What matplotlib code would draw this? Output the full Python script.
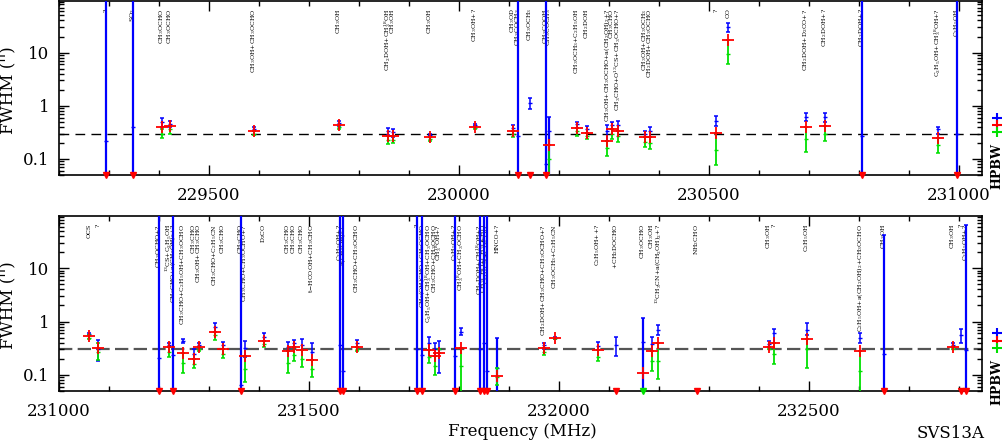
import numpy as np
import matplotlib
matplotlib.use("Agg")
import matplotlib.pyplot as plt
import matplotlib.transforms as mtransforms
from matplotlib.ticker import MultipleLocator, FixedLocator, FixedFormatter, LogLocator, NullFormatter

plt.rcParams['font.family'] = ['DejaVu Serif']
plt.rcParams['mathtext.fontset'] = 'dejavuserif'

NA = np.nan

# ---- top panel (229200 - 231050 MHz) ----
top_freq = [229294, 229348, 229406, 229422, 229590, 229760, 229857, 229867, 229942, 230032,
            230108, 230117, 230142, 230173, 230180, 230236, 230256, 230296, 230306, 230318,
            230372, 230381, 230514, 230538, 230694, 230732, 230806, 230958, 230996]
top_label = ["?", "SO$_2$", "CH$_3$OCHO", "CH$_3$OCHO", "CH$_3$OH+CH$_3$OCHO", "CH$_3$OH",
             "CH$_2$DOH+CH$_3^{18}$OH", "CH$_3$OH", "CH$_3$OH", "CH$_3$OH+?",
             "CH$_3$OD", "CH$_3$COCH$_3$", "CH$_3$OCH$_3$", "CH$_3$COOH", "CH$_3$COCH$_3$",
             "CH$_3$OCH$_3$+C$_2$H$_5$OH", "CH$_2$DOH", "CH$_3$OH+CH$_3$OCHO+a(CH$_2$OH)$_2$+?",
             "CH$_3$CHO", "CH$_3$CHO+O$^{13}$CS+CH$_3$OCHO+?",
             "CH$_3$OH+CH$_3$OCH$_3$", "CH$_2$DOH+CH$_3$OCHO", "?", "CO", "CH$_2$DOH+D$_2$CO+?",
             "CH$_2$DOH+?", "CH$_2$DOH+?", "C$_2$H$_5$OH+CH$_3^{18}$OH+?", "C$_2$H$_5$OH"]
top_blue = [0.22, 0.40, 0.50, 0.46, 0.37, 0.47, 0.33, 0.32, 0.28, 0.43,
            0.39, 0.275, 1.13, 0.082, 0.33, 0.45, 0.37, 0.33, 0.43, 0.44,
            0.30, 0.34, 0.52, 30.0, 0.62, 0.62, 0.275, 0.36, 0.29]
top_blue_lo = [0.001, 0.001, 0.40, 0.40, 0.33, 0.42, 0.28, 0.26, 0.265, 0.41,
               0.34, 0.001, 0.88, 0.001, 0.03, 0.39, 0.31, 0.22, 0.37, 0.34,
               0.263, 0.263, 0.42, 24.0, 0.52, 0.50, 0.001, 0.30, 0.001]
top_blue_hi = [1000, 1000, 0.60, 0.52, 0.40, 0.52, 0.39, 0.37, 0.29, 0.46,
               0.44, 1000, 1.41, 1000, 0.62, 0.50, 0.42, 0.44, 0.50, 0.52,
               0.34, 0.405, 0.65, 35.6, 0.74, 0.74, 1000, 0.405, 1000]
top_red = [NA, NA, 0.40, 0.42, 0.33, 0.44, 0.275, 0.27, 0.263, 0.405,
           0.34, NA, NA, NA, 0.187, 0.39, 0.313, 0.222, 0.37, 0.34,
           0.263, 0.263, 0.313, 17.1, 0.405, 0.42, NA, 0.252, NA]
top_green = [NA, NA, 0.30, 0.36, 0.30, 0.40, 0.23, 0.23, 0.24, 0.38,
             0.30, NA, NA, NA, 0.10, 0.33, 0.27, 0.16, 0.30, 0.27,
             0.21, 0.20, 0.15, 9.4, 0.24, 0.30, NA, 0.18, NA]
top_green_lo = [NA, NA, 0.25, 0.30, 0.28, 0.37, 0.195, 0.20, 0.22, 0.36,
                0.26, NA, NA, NA, 0.01, 0.275, 0.24, 0.116, 0.24, 0.21,
                0.171, 0.157, 0.076, 6.1, 0.138, 0.22, NA, 0.132, NA]
top_green_hi = [NA, NA, 0.37, 0.42, 0.33, 0.44, 0.275, 0.27, 0.26, 0.40,
                0.34, NA, NA, NA, 0.187, 0.39, 0.31, 0.222, 0.37, 0.34,
                0.263, 0.263, 0.313, 17.1, 0.405, 0.42, NA, 0.252, NA]

# ---- bottom panel (231000 - 232850 MHz) ----
bot_freq = [231060, 231078, 231200, 231220, 231228, 231248, 231270, 231280, 231312, 231328,
            231364, 231372, 231410, 231458, 231470, 231486, 231506, 231562, 231568, 231596,
            231716, 231726, 231740, 231752, 231760, 231792, 231804, 231842, 231850, 231856,
            231876, 231970, 231992, 232078, 232114, 232168, 232186, 232198, 232276, 232420,
            232430, 232496, 232602, 232650, 232788, 232804, 232814]
bot_label = ["OCS", "?", "CH$_3$OCHO+?", "$^{13}$CS+C$_2$H$_5$OH", "CH$_3$CHO+a(CH$_2$OH)$_2$+?",
             "CH$_3$CHO+C$_2$H$_5$OH+CH$_3$OCHO", "CH$_3$CHO", "CH$_3$OH+CH$_3$CHO",
             "CH$_3$CHO+C$_2$H$_5$CN", "CH$_3$CHO",
             "CH$_3$CHO", "CH$_3$CHO+CH$_3$OCHO+?", "D$_2$CO", "CH$_3$CHO", "CH$_3$CHO", "CH$_3$CHO",
             "t$-$HCOOH+CH$_3$CHO", "C$_2$H$_5$OH+?", "a(CH$_2$OH)$_2$+", "CH$_3$CHO+CH$_3$OCHO",
             "?", "CH$_2$(OH)CHO+CH$_3$OCHO", "C$_2$H$_5$OH+CH$_3^{18}$OH+CH$_3$OCHO",
             "CH$_3$CHO+CH$_3$OCHO", "CH$_3^{18}$OH+?", "C$_2$H$_5$OH+?", "CH$_3^{18}$OH+CH$_3$OCHO",
             "CH$_2$DOH+CH$_3^{18}$OH+?", "CH$_3$CHO+CH$_3$OCHO", "C$_2$H$_5$CN+CH$_3^{18}$OH",
             "HNCO+?", "CH$_2$DOH+CH$_3$CHO+CH$_3$OCHO+?", "CH$_3$OCH$_3$+C$_2$H$_5$CN",
             "C$_2$H$_5$OH++?", "+CH$_2$DOCHO", "CH$_3$OCHO", "CH$_3$OH",
             "$^{13}$CH$_3$CN+a(CH$_2$OH)$_2$+?", "NH$_2$CHO", "CH$_3$OH",
             "?", "C$_2$H$_5$OH", "C$_2$H$_5$OH+a(CH$_2$OH)$_2$+CH$_3$OCHO", "CH$_3$OH",
             "CH$_3$OH", "?", "C$_2$H$_5$OH+?"]
bot_blue = [0.58, 0.30, 0.21, 0.37, 0.24, 0.44, 0.25, 0.37, 0.78, 0.36,
            0.064, 0.32, 0.52, 0.34, 0.39, 0.37, 0.27, 0.356, 0.12, 0.40,
            0.30, 0.24, 0.40, 0.30, 0.30, 0.222, 0.65, 0.31, 0.405, 0.12,
            0.132, 0.37, 0.50, 0.35, 0.36, 0.42, 0.38, 0.70, NA, 0.38,
            0.60, 0.70, 0.50, 0.242, 0.36, 0.57, 0.29]
bot_blue_lo = [0.55, 0.18, 0.001, 0.33, 0.001, 0.405, 0.20, 0.34, 0.65, 0.30,
               0.001, 0.22, 0.44, 0.275, 0.327, 0.287, 0.187, 0.001, 0.001, 0.34,
               0.001, 0.001, 0.287, 0.222, 0.107, 0.001, 0.55, 0.001, 0.001, 0.001,
               0.03, 0.31, 0.48, 0.287, 0.222, 0.01, 0.275, 0.57, NA, 0.327,
               0.405, 0.55, 0.39, 0.001, 0.33, 0.405, 0.001]
bot_blue_hi = [0.62, 0.46, 1000, 0.405, 1000, 0.48, 0.30, 0.405, 0.92, 0.42,
               1000, 0.44, 0.60, 0.42, 0.46, 0.48, 0.39, 1000, 1000, 0.46,
               1000, 1000, 0.52, 0.405, 0.44, 1000, 0.77, 1000, 1000, 1000,
               0.50, 0.405, 0.52, 0.42, 0.52, 1.19, 0.52, 0.88, NA, 0.44,
               0.74, 0.92, 0.62, 42.0, 0.40, 0.74, 65.0]
bot_red = [0.547, 0.313, NA, 0.327, NA, 0.263, 0.20, 0.34, 0.65, 0.30,
           NA, 0.222, 0.44, 0.275, 0.327, 0.287, 0.187, NA, NA, 0.34,
           NA, NA, 0.287, 0.222, 0.263, NA, 0.313, NA, NA, NA,
           0.094, 0.313, 0.50, 0.287, NA, 0.11, 0.275, 0.405, NA, 0.327,
           0.405, 0.48, 0.275, NA, 0.327, NA, NA]
bot_green = [0.50, 0.27, NA, 0.27, NA, 0.17, 0.16, 0.30, 0.55, 0.25,
             NA, 0.13, 0.38, 0.17, 0.24, 0.20, 0.13, NA, NA, 0.30,
             NA, NA, 0.22, 0.15, 0.30, NA, 0.15, NA, NA, NA,
             0.09, 0.27, 0.49, 0.22, NA, NA, 0.18, 0.18, NA, 0.30,
             0.25, 0.30, 0.12, NA, 0.30, NA, NA]
bot_green_lo = [0.48, 0.187, NA, 0.22, NA, 0.11, 0.132, 0.275, 0.46, 0.212,
                NA, 0.073, 0.327, 0.11, 0.18, 0.138, 0.09, NA, NA, 0.275,
                NA, NA, 0.164, 0.098, 0.263, NA, 0.01, NA, NA, NA,
                0.064, 0.24, 0.47, 0.18, NA, NA, 0.116, 0.085, NA, 0.30,
                0.157, 0.132, 0.01, NA, 0.30, NA, NA]
bot_green_hi = [0.55, 0.405, NA, 0.327, NA, 0.263, 0.20, 0.34, 0.65, 0.30,
                NA, 0.222, 0.44, 0.275, 0.327, 0.287, 0.187, NA, NA, 0.34,
                NA, NA, 0.287, 0.222, 0.30, NA, 0.313, NA, NA, NA,
                0.132, 0.313, 0.50, 0.287, NA, NA, 0.275, 0.405, NA, 0.327,
                0.405, 0.48, 0.275, NA, 0.327, NA, NA]
bot_green_ul = [232168]

hpbw = 0.3
beam = [0.6, 0.43, 0.32]   # blue, red, green markers beside the panels

YMIN, YMAX = 0.05, 95


def draw_panel(ax, freq, labels, bv, blo, bhi, red, gv, glo, ghi, xlim, dash_color, dash_lw, dashes, green_ul=()):
    freq = np.array(freq, float)
    bv, blo, bhi = np.array(bv, float), np.array(blo, float), np.array(bhi, float)
    red = np.array(red, float)
    gv, glo, ghi = np.array(gv, float), np.array(glo, float), np.array(ghi, float)

    ax.set_yscale('log')
    ax.set_xlim(*xlim)
    ax.set_ylim(YMIN, YMAX)

    ax.axhline(hpbw, color=dash_color, lw=dash_lw, ls=(0, dashes), zorder=1)

    trans = mtransforms.blended_transform_factory(ax.transData, ax.transAxes)
    for f, lab in zip(freq, labels):
        ax.text(f, 0.955, lab, transform=trans, rotation=90, ha='center', va='top',
                fontsize=4.5, zorder=2)

    # blue errorbars (long ones drawn thicker)
    m = ~np.isnan(bv)
    full = m & (blo < YMIN)
    part = m & ~full
    ax.errorbar(freq[part], bv[part], yerr=[bv[part] - blo[part], bhi[part] - bv[part]],
                fmt='_', color='blue', ms=3, lw=1.1, capsize=1.6, capthick=1.1, zorder=3)
    ax.errorbar(freq[full], bv[full], yerr=[bv[full] - blo[full], bhi[full] - bv[full]],
                fmt='_', color='blue', ms=3, lw=1.6, capsize=1.6, capthick=1.1, zorder=3)

    # green errorbars
    m = ~np.isnan(gv)
    ax.errorbar(freq[m], gv[m], yerr=[gv[m] - glo[m], ghi[m] - gv[m]],
                fmt='_', color='#00e000', ms=3, lw=1.3, capsize=1.6, capthick=1.1, zorder=4)

    # red: value or upper limit
    m = ~np.isnan(red)
    ax.plot(freq[m], red[m], '+', color='red', ms=8, mew=1.3, zorder=5)
    ax.plot(freq[~m], np.full((~m).sum(), YMIN), 'v', color='red', ms=5, clip_on=False, zorder=6)
    if len(green_ul):
        ax.plot(green_ul, [YMIN] * len(green_ul), 'v', color='#00e000', ms=5, clip_on=False, zorder=6)

    # axes styling
    ax.xaxis.set_major_locator(MultipleLocator(500))
    ax.xaxis.set_minor_locator(MultipleLocator(100))
    ax.yaxis.set_major_locator(FixedLocator([0.1, 1, 10]))
    ax.yaxis.set_major_formatter(FixedFormatter(['0.1', '1', '10']))
    ax.yaxis.set_minor_locator(LogLocator(base=10, subs=np.arange(2, 10)))
    ax.yaxis.set_minor_formatter(NullFormatter())
    ax.tick_params(which='both', direction='in', top=True, right=True, width=1)
    ax.tick_params(which='major', length=7, labelsize=12)
    ax.tick_params(which='minor', length=3.5)
    ax.tick_params(axis='x', pad=9)
    ax.tick_params(axis='y', pad=7)
    for sp in ax.spines.values():
        sp.set_linewidth(1.2)

    # beam markers and HPBW tag to the right of the panel
    tb = mtransforms.blended_transform_factory(ax.transAxes, ax.transData)
    for val, col in zip(beam, ['blue', 'red', '#00e000']):
        ax.plot([1.016], [val], '+', color=col, ms=7, mew=1.5, transform=tb, clip_on=False)
    ax.text(1.016, 0.05, 'HPBW', transform=ax.transAxes, rotation=90, ha='center', va='center',
            fontsize=9, fontweight='bold')


fig = plt.figure(figsize=(10.02, 4.46), dpi=100)
ax_top = fig.add_axes([59 / 1002, 1 - 175 / 446, 923 / 1002, 174.5 / 446])
ax_bot = fig.add_axes([59 / 1002, 1 - 391 / 446, 923 / 1002, 175 / 446])

draw_panel(ax_top, top_freq, top_label, top_blue, top_blue_lo, top_blue_hi, top_red,
           top_green, top_green_lo, top_green_hi, (229200, 231046), 'black', 1.0, (7, 4.5))
draw_panel(ax_bot, bot_freq, bot_label, bot_blue, bot_blue_lo, bot_blue_hi, bot_red,
           bot_green, bot_green_lo, bot_green_hi, (231000, 232846), '#555555', 1.6, (6, 2.4),
           green_ul=bot_green_ul)

fig.text(9 / 1002, 1 - 90 / 446, "FWHM ('')", rotation=90, ha='center', va='center', fontsize=12)
fig.text(9 / 1002, 1 - 305 / 446, "FWHM ('')", rotation=90, ha='center', va='center', fontsize=12)
fig.text(522 / 1002, 1 - 432 / 446, 'Frequency (MHz)', ha='center', va='center', fontsize=12)
fig.text(985 / 1002, 1 - 434 / 446, 'SVS13A', ha='right', va='center', fontsize=12)

fig.savefig('out.png', dpi=100)
